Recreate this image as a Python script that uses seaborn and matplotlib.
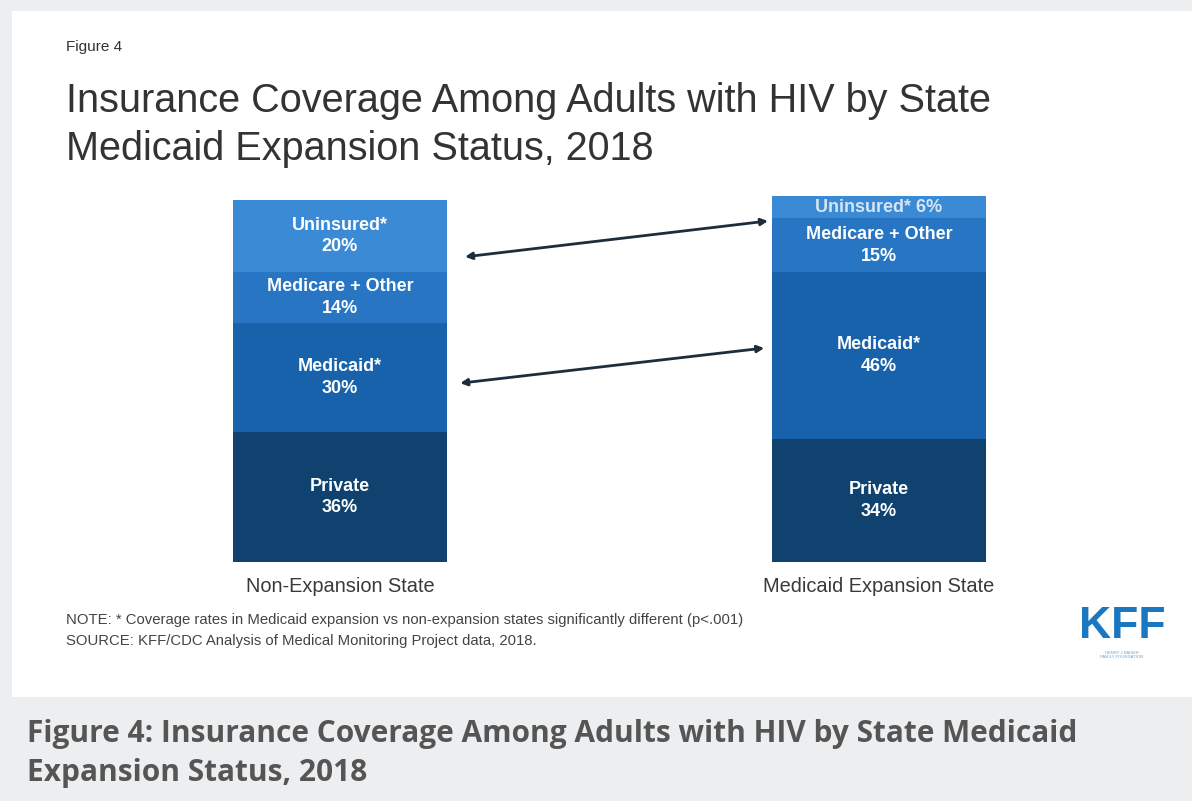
import matplotlib
matplotlib.use("Agg")
import matplotlib.pyplot as plt
from matplotlib.patches import Rectangle
import seaborn as sns
import pandas as pd
import numpy as np

# Coverage shares (%) by state expansion status, stacked bottom to top
states = ["Non-Expansion State", "Medicaid Expansion State"]
segments = ["Private", "Medicaid*", "Medicare + Other", "Uninsured*"]
private = [36, 34]
medicaid = [30, 46]
medicare_other = [14, 15]
uninsured = [20, 6]

seg_colors = ["#0f426f", "#1862ab", "#2775c3", "#3b8ad5"]

sns.set_theme(style="white")
plt.rcParams["font.family"] = ["Liberation Sans", "DejaVu Sans"]

W, H = 1192, 801
fig = plt.figure(figsize=(W / 100, H / 100), dpi=100)
fig.patch.set_facecolor("#eceef0")

def px_rect(x0, y0, x1, y1):
    """Figure-fraction rectangle from pixel box (top-left origin)."""
    return [x0 / W, 1 - y1 / H, (x1 - x0) / W, (y1 - y0) / H]

# background layer with the white slide panel
bg = fig.add_axes([0, 0, 1, 1], zorder=-5)
bg.set_xlim(0, W)
bg.set_ylim(H, 0)
bg.set_axis_off()
bg.add_patch(Rectangle((12, 11), W - 12, 697 - 11, facecolor="white",
                       edgecolor="none"))

# stacked bars: draw cumulative totals from the top segment down
values = np.array([private, medicaid, medicare_other, uninsured], dtype=float)
cum = values.cumsum(axis=0)

ax = fig.add_axes(px_rect(233, 562 - 101 * 3.62, 986, 562), zorder=2)
ax.set_facecolor("none")
for i in range(len(segments) - 1, -1, -1):
    df = pd.DataFrame({"state": states, "top": cum[i]})
    sns.barplot(data=df, x="state", y="top", color=seg_colors[i],
                saturation=1, width=0.397, ax=ax, edgecolor="none", linewidth=0)
ax.set_xlim(-0.1985, 1.1985)
ax.set_ylim(0, 101)
ax.set_axis_off()

# segment labels
for j in range(len(states)):
    for i, name in enumerate(segments):
        v = values[i, j]
        mid = cum[i, j] - v / 2
        if v < 10:
            ax.text(j, mid, f"{name} {int(v)}%", ha="center", va="center",
                    color="#e8f0fa", alpha=0.9, fontsize=13, fontweight="bold")
        else:
            ax.text(j, mid, f"{name}\n{int(v)}%", ha="center", va="center",
                    color="white", fontsize=13, fontweight="bold",
                    linespacing=1.35)

# category labels under the bars
for j, s in enumerate(states):
    ax.text(j, -4.2, s, ha="center", va="top", fontsize=14.4, color="#3a3a3a",
            clip_on=False)

# double-headed arrows linking the shifted segments
arrows = [((0.232, 84.3), (0.794, 94.2)), ((0.223, 49.4), (0.787, 59.1))]
for (p0, p1) in arrows:
    ax.annotate("", xy=p1, xytext=p0,
                arrowprops=dict(arrowstyle="<|-|>", color="#1e2d3c", lw=2,
                                mutation_scale=10, shrinkA=0, shrinkB=0))

# headings
fig.text(66 / W, 1 - 47 / H, "Figure 4", fontsize=11, color="#333333",
         va="center", ha="left")
fig.text(66 / W, 1 - 101 / H,
         "Insurance Coverage Among Adults with HIV by State",
         fontsize=28.5, color="#333333", va="center", ha="left")
fig.text(66 / W, 1 - 149 / H, "Medicaid Expansion Status, 2018",
         fontsize=28.5, color="#333333", va="center", ha="left")

# footnotes
fig.text(66 / W, 1 - 620 / H,
         "NOTE: * Coverage rates in Medicaid expansion vs non-expansion states significantly different (p<.001)",
         fontsize=10.7, color="#444444", va="center", ha="left")
fig.text(66 / W, 1 - 641 / H,
         "SOURCE: KFF/CDC Analysis of Medical Monitoring Project data, 2018.",
         fontsize=10.7, color="#444444", va="center", ha="left")

# logo
fig.text(1122 / W, 1 - 626 / H, "KFF", fontsize=32, fontweight="bold",
         color="#1b77c0", va="center", ha="center")
fig.text(1122 / W, 1 - 655 / H, "HENRY J KAISER\nFAMILY FOUNDATION",
         fontsize=3, color="#6f9fcf", va="center", ha="center", linespacing=1.1)

# caption band
fig.text(27 / W, 1 - 734 / H,
         "Figure 4: Insurance Coverage Among Adults with HIV by State Medicaid",
         family=["Open Sans", "DejaVu Sans"], fontweight="bold", fontsize=21.5,
         color="#555555", va="center", ha="left")
fig.text(27 / W, 1 - 773 / H, "Expansion Status, 2018",
         family=["Open Sans", "DejaVu Sans"], fontweight="bold", fontsize=21.5,
         color="#555555", va="center", ha="left")

fig.savefig("out.png", dpi=100, facecolor=fig.get_facecolor())
